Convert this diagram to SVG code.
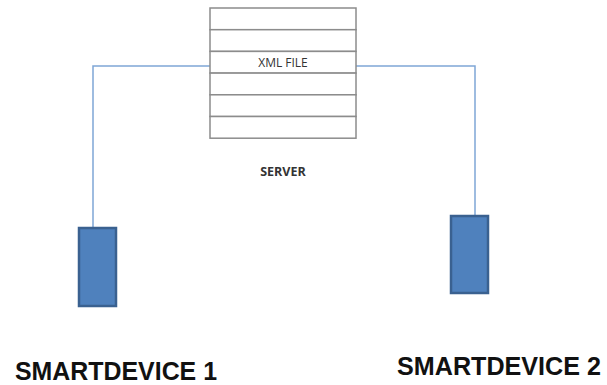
<svg xmlns="http://www.w3.org/2000/svg" width="607" height="385" viewBox="0 0 607 385">
<style>
.row{fill:#ffffff;stroke:#8c8c8c;stroke-width:1.5}
.wire{fill:none;stroke:#7fa6d6;stroke-width:1.5}
.dev{fill:#4f81bd;stroke:#3a6190;stroke-width:2.5}
.small{font-family:"Open Sans","Liberation Sans",sans-serif;fill:#333333}
.big{font-family:"Liberation Sans",Arial,sans-serif;font-weight:bold;fill:#111111}
</style>
<rect width="607" height="385" fill="#ffffff"/>
<g id="connectors">
<polyline class="wire" points="210,66 93,66 93,228"/>
<polyline class="wire" points="356,66 475,66 475,216"/>
</g>
<g id="server">
<rect class="row" x="210" y="8" width="146" height="21.7"/>
<rect class="row" x="210" y="29.7" width="146" height="21.7"/>
<rect class="row" x="210" y="51.4" width="146" height="21.7"/>
<rect class="row" x="210" y="73.1" width="146" height="21.7"/>
<rect class="row" x="210" y="94.8" width="146" height="21.7"/>
<rect class="row" x="210" y="116.5" width="146" height="21.7"/>
<text class="small" x="283" y="67" font-size="12" text-anchor="middle">XML FILE</text>
<text class="small" x="283" y="176" font-size="12.5" font-weight="bold" text-anchor="middle">SERVER</text>
</g>
<g id="device1">
<rect class="dev" x="79" y="228" width="37" height="78"/>
<text class="big" x="15" y="380" font-size="26" textLength="202" lengthAdjust="spacingAndGlyphs">SMARTDEVICE 1</text>
</g>
<g id="device2">
<rect class="dev" x="451" y="216" width="37" height="77"/>
<text class="big" x="397" y="375" font-size="26" textLength="204" lengthAdjust="spacingAndGlyphs">SMARTDEVICE 2</text>
</g>
</svg>
